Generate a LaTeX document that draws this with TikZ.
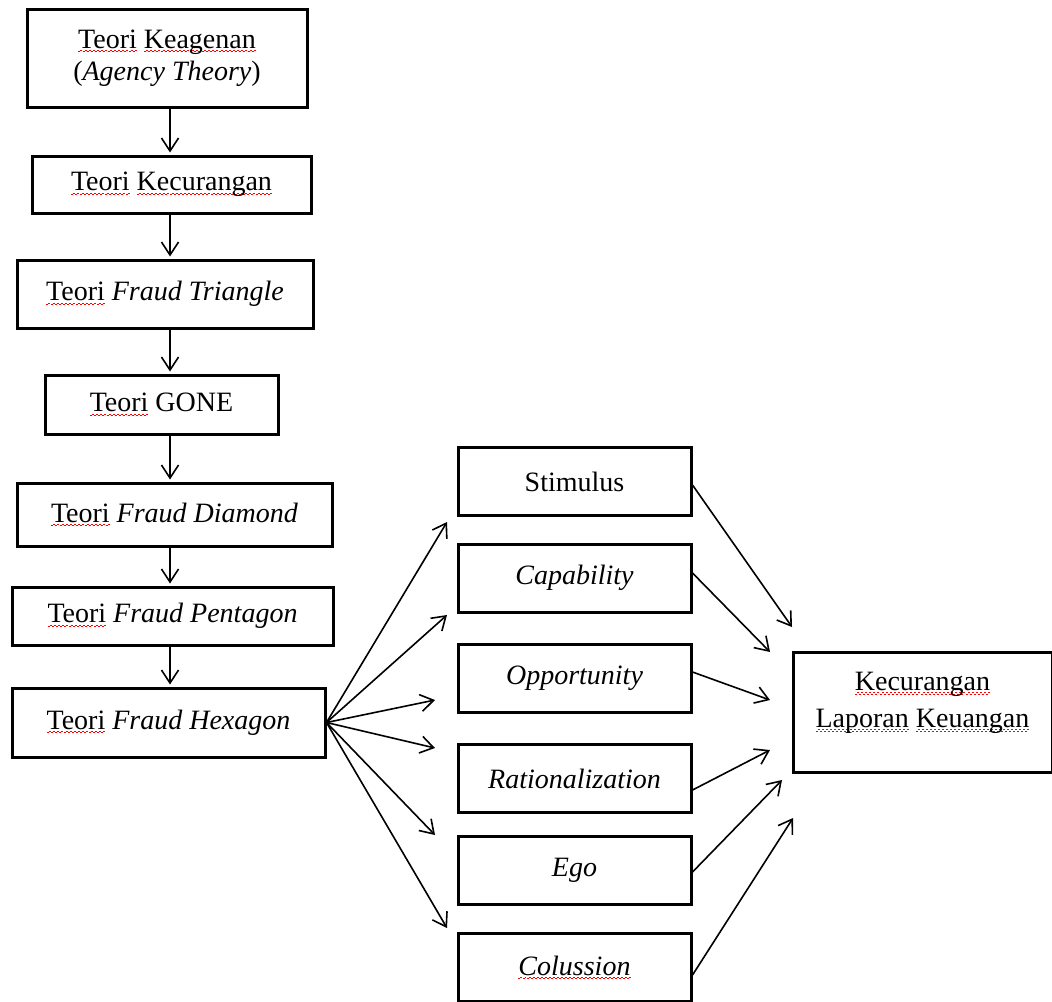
\documentclass[tikz,border=0pt]{standalone}
\usepackage{fontspec}
\setmainfont{Liberation Serif}
\usepackage{xcolor}
\usetikzlibrary{arrows.meta}
\tikzset{>={Straight Barb[length=6.5pt,width=8.5pt]}}
\tikzset{kotak/.style={draw, line width=1.5pt, align=center, inner sep=2pt,
    font=\fontsize{14}{17}\selectfont}}
\tikzset{elemen/.style={kotak, minimum width=116.5pt, minimum height=34pt}}
\tikzset{panah/.style={->, line width=0.8pt}}
\newsavebox{\katasalah}
\newcommand{\salah}[1]{\sbox{\katasalah}{#1}\rlap{\raisebox{-2pt}{\color{red}\hbox to \wd\katasalah{\xleaders\hbox{\rule{1pt}{0.5pt}\rule[0.6pt]{1pt}{0.5pt}}\hfill}}}\usebox{\katasalah}}

\begin{document}
\begin{tikzpicture}[x=0.5pt, y=-0.5pt]
    \useasboundingbox (0,0) rectangle (1052,1001);
    \coordinate (poros) at (170,0);
    % teori
    \node[kotak, minimum width=140pt, minimum height=49pt, font=\fontsize{14}{16}\selectfont] (keagenan) at (167,58)
        {\salah{Teori} \salah{Keagenan}\\(\textit{Agency Theory})};
    \node[kotak, minimum width=139.5pt, minimum height=28.5pt] (kecurangan) at (171.5,184.5) {\salah{Teori} \salah{Kecurangan}};
    \node[kotak, minimum width=148pt, minimum height=34pt] (triangle) at (165,294) {\salah{Teori} \textit{Fraud Triangle}};
    \node[kotak, minimum width=116.5pt, minimum height=29.5pt] (gone) at (161.5,404.5) {\salah{Teori} GONE};
    \node[kotak, minimum width=157.5pt, minimum height=31.5pt] (diamond) at (174.5,514.5) {\salah{Teori} \textit{Fraud Diamond}};
    \node[kotak, minimum width=160.5pt, minimum height=29pt] (pentagon) at (172.5,616) {\salah{Teori} \textit{Fraud Pentagon}};
    \node[kotak, minimum width=156.5pt, minimum height=34.5pt] (hexagon) at (168.5,722.5) {\salah{Teori} \textit{Fraud Hexagon}};
    \foreach \atas/\bawah in {keagenan/kecurangan, kecurangan/triangle, triangle/gone, gone/diamond, diamond/pentagon, pentagon/hexagon}
        \draw[panah, shorten >=1pt] (\atas.south -| poros) -- (\bawah.north -| poros);
    % elemen hexagon
    \node[elemen] (stimulus) at (574.5,481.5) {Stimulus};
    \node[elemen] (capability) at (574.5,578) {\textit{Capability}};
    \node[elemen] (opportunity) at (574.5,678) {\textit{Opportunity}};
    \node[elemen] (rationalization) at (574.5,778.5) {\textit{Rationalization}};
    \node[elemen] (ego) at (574.5,870) {\textit{Ego}};
    \node[elemen] (colussion) at (574.5,967.5) {\textit{\salah{Colussion}}};
    % kecurangan laporan keuangan
    \node[kotak, minimum width=129.5pt, minimum height=60pt] (laporan) at (922.5,712) {};
    \node[font=\fontsize{14}{18.5}\selectfont, align=center] (laporanteks) at ([yshift=4.5pt]laporan.center)
        {\salah{Kecurangan}\\\salah{Laporan} \salah{Keuangan}};
    % ujung panah
    \coordinate (u1) at (447,522);
    \coordinate (u2) at (447,615);
    \coordinate (u3) at (435,700);
    \coordinate (u4) at (435,748);
    \coordinate (u5) at (435,835);
    \coordinate (u6) at (447,928);
    \coordinate (m1) at (792,627);
    \coordinate (m2) at (770,652);
    \coordinate (m3) at (770,700);
    \coordinate (m4) at (770,750);
    \coordinate (m5) at (782,780);
    \coordinate (m6) at (793,818);
    \foreach \i in {1,...,6}
        \draw[panah] (hexagon.east) -- (u\i);
    \foreach \asal/\geser/\i in {stimulus/-1.75/1, capability/2.5/2, opportunity/3/3, rationalization/-5.75/4, ego/-1/5, colussion/-3.75/6}
        \draw[panah] ([yshift=\geser pt]\asal.east) -- (m\i);
\end{tikzpicture}
\end{document}
